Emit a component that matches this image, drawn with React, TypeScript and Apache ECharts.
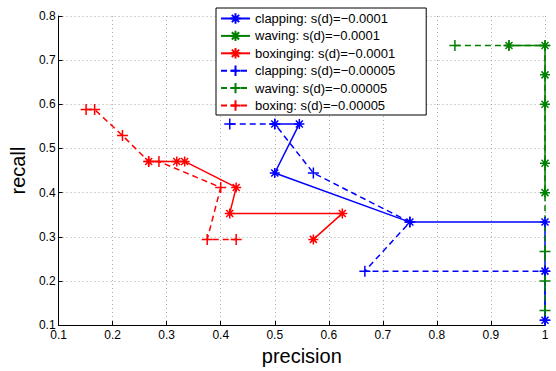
import React, { useEffect, useRef } from "react";
import * as echarts from "echarts";

const blueSolidX = [0.5, 0.5455, 0.5, 0.75, 1, 1, 1];
const blueSolidY = [0.5556, 0.5556, 0.4444, 0.3333, 0.3333, 0.2222, 0.1111];
const greenSolidX = [0.9333, 1, 1, 1, 1, 1];
const greenSolidY = [0.7333, 0.7333, 0.6667, 0.6, 0.4667, 0.4];
const redSolidX = [0.2667, 0.3187, 0.3333, 0.4286, 0.4167, 0.625, 0.5714];
const redSolidY = [0.4706, 0.4706, 0.4706, 0.4118, 0.3529, 0.3529, 0.2941];
const blueDashedX = [0.4167, 0.5, 0.5714, 0.75, 0.6667, 1, 1];
const blueDashedY = [0.5556, 0.5556, 0.4444, 0.3333, 0.2222, 0.2222, 0.1111];
const greenDashedX = [0.8333, 0.9333, 1, 1, 1, 1];
const greenDashedY = [0.7333, 0.7333, 0.7333, 0.2667, 0.2, 0.1333];
const redDashedX = [0.1509, 0.1667, 0.2182, 0.2667, 0.2857, 0.4, 0.375, 0.4286];
const redDashedY = [0.5882, 0.5882, 0.5294, 0.4706, 0.4706, 0.4118, 0.2941, 0.2941];

const seriesNames = [
  "clapping: s(d)=\u22120.0001",
  "waving: s(d)=\u22120.0001",
  "boxinging: s(d)=\u22120.0001",
  "clapping: s(d)=\u22120.00005",
  "waving: s(d)=\u22120.00005",
  "boxing: s(d)=\u22120.00005",
];

const ASTERISK = "path://M0,-5L0,5M-5,0L5,0M-3.5,-3.5L3.5,3.5M-3.5,3.5L3.5,-3.5";
const PLUS = "path://M0,-5L0,5M-5,0L5,0";

const zip = (xs: number[], ys: number[]) => xs.map((x, i) => [x, ys[i]]);

export default function App() {
  const ref = useRef<HTMLDivElement>(null);
  useEffect(() => {
    if (!ref.current) return;
    const chart = echarts.init(ref.current, null, { renderer: "svg" });
    const mk = (name: string, xs: number[], ys: number[], color: string, dashed: boolean) => ({
      name,
      type: "line",
      data: zip(xs, ys),
      clip: false,
      symbol: dashed ? PLUS : ASTERISK,
      symbolSize: dashed ? 11 : 10,
      showAllSymbol: true,
      lineStyle: { color, width: 1.5, type: dashed ? [6, 4] : "solid" },
      itemStyle: { color, borderColor: color, borderWidth: 1.5 },
      emphasis: { disabled: true },
    });
    const font = "Liberation Sans, Arial, sans-serif";
    chart.setOption({
      animation: false,
      grid: { left: 55, right: 11, top: 16, bottom: 35, containLabel: false },
      legend: {
        orient: "vertical",
        left: 216,
        top: 8,
        padding: [4, 31, 3, 4],
        itemWidth: 29,
        itemHeight: 13,
        itemGap: 4.4,
        backgroundColor: "#fff",
        borderColor: "#000",
        borderWidth: 1,
        borderRadius: 0,
        textStyle: { fontFamily: font, fontSize: 13, color: "#000", lineHeight: 13 },
        data: seriesNames,
      },
      xAxis: {
        type: "value",
        min: 0.1,
        max: 1,
        interval: 0.1,
        name: "precision",
        nameLocation: "middle",
        nameGap: 17,
        nameTextStyle: { fontFamily: font, fontSize: 20, color: "#000" },
        axisLine: { show: true, onZero: false, lineStyle: { color: "#000", width: 1 } },
        axisTick: { show: true, inside: true, length: 4, lineStyle: { color: "#000" } },
        axisLabel: {
          fontFamily: font,
          fontSize: 12,
          color: "#000",
          margin: 4,
          formatter: (v: number) => (Math.abs(v - 1) < 1e-9 ? "1" : v.toFixed(1)),
        },
        splitLine: { show: true, lineStyle: { color: "#aaa", type: [1, 3], width: 1 } },
      },
      yAxis: {
        type: "value",
        min: 0.1,
        max: 0.8,
        interval: 0.1,
        name: "recall",
        nameLocation: "middle",
        nameGap: 21,
        nameRotate: 90,
        nameTextStyle: { fontFamily: font, fontSize: 20, color: "#000" },
        axisLine: { show: true, onZero: false, lineStyle: { color: "#000", width: 1 } },
        axisTick: { show: true, inside: true, length: 4, lineStyle: { color: "#000" } },
        axisLabel: {
          fontFamily: font,
          fontSize: 12,
          color: "#000",
          margin: 3,
          formatter: (v: number) => v.toFixed(1),
        },
        splitLine: { show: true, lineStyle: { color: "#aaa", type: [1, 3], width: 1 } },
      },
      series: [
        mk(seriesNames[0], blueSolidX, blueSolidY, "#0000ff", false),
        mk(seriesNames[1], greenSolidX, greenSolidY, "#008000", false),
        mk(seriesNames[2], redSolidX, redSolidY, "#ff0000", false),
        mk(seriesNames[3], blueDashedX, blueDashedY, "#0000ff", true),
        mk(seriesNames[4], greenDashedX, greenDashedY, "#008000", true),
        mk(seriesNames[5], redDashedX, redDashedY, "#ff0000", true),
      ],
    });
    return () => chart.dispose();
  }, []);
  return (
    <div
      ref={ref}
      style={{ position: "fixed", left: 0, top: 0, width: 556, height: 371, background: "#fff" }}
    />
  );
}
